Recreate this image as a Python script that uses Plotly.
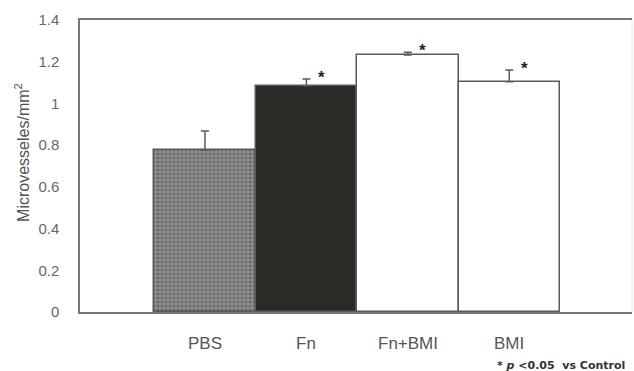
import plotly.graph_objects as go

categories = ["PBS", "Fn", "Fn+BMI", "BMI"]
values = [0.777, 1.085, 1.232, 1.104]
errors = [0.091, 0.032, 0.013, 0.056]
significant = [False, True, True, True]
y_ticks = [0, 0.2, 0.4, 0.6, 0.8, 1, 1.2, 1.4]

positions = list(range(len(categories)))
fills = ["#8e8e8e", "#2b2a27", "#ffffff", "#ffffff"]

fig = go.Figure()
fig.add_trace(go.Bar(
    x=positions, y=values, width=1,
    marker=dict(color=fills, line=dict(color="#5a5a5a", width=1.5),
                pattern=dict(shape=[".", "", "", ""], fgcolor="#5e5e5e",
                             bgcolor="#a2a2a2", size=4, solidity=0.45)),
    error_y=dict(type="data", array=errors, arrayminus=[0] * len(errors),
                 color="#5a5a5a", thickness=1.5, width=4),
))

grey = "#555555"
for i, c in enumerate(categories):
    fig.add_annotation(x=i, y=0, xref="x", yref="y", text=c, showarrow=False,
                       yanchor="middle", yshift=-31,
                       font=dict(family="Arial, Liberation Sans", size=17, color=grey))
    if significant[i]:
        fig.add_annotation(x=i, y=values[i] + errors[i], xref="x", yref="y", text="<b>*</b>",
                           showarrow=False, xshift=15, yshift=2, yanchor="middle",
                           font=dict(family="Arial, Liberation Sans", size=17, color="#222"))

fig.add_annotation(xref="paper", yref="paper", x=-0.105, y=0.545,
                   text="Microvesseles/mm<sup>2</sup>", textangle=-90, showarrow=False,
                   xanchor="center", yanchor="middle",
                   font=dict(family="Arial, Liberation Sans", size=16, color=grey))
fig.add_annotation(xref="paper", yref="paper", x=(495 - 80) / 552, y=-(365 - 312) / 292,
                   text="<b>* <i>p</i> &lt;0.05  vs Control</b>", showarrow=False,
                   xanchor="left", yanchor="middle",
                   font=dict(family="DejaVu Sans", size=11, color="#333"))
fig.add_shape(type="line", xref="paper", yref="paper", x0=1, x1=1, y0=0, y1=1,
              line=dict(color="#e2e2e2", width=1))

fig.update_layout(
    width=634, height=371,
    margin=dict(l=80, r=2, t=20, b=59),
    paper_bgcolor="white", plot_bgcolor="white",
    showlegend=False, bargap=0,
    xaxis=dict(range=[-1.232, 4.21], showticklabels=False, ticks="",
               showgrid=False, zeroline=False, showline=True, mirror=True,
               linecolor="#777777", linewidth=2),
    yaxis=dict(range=[0, 1.4], tickvals=y_ticks, ticks="", showgrid=False,
               zeroline=False, showline=True, linecolor="#777777", linewidth=1.5,
               ticklabelstandoff=16,
               tickfont=dict(family="Arial, Liberation Sans", size=15, color="#666")),
)

fig.write_html("out.html")
